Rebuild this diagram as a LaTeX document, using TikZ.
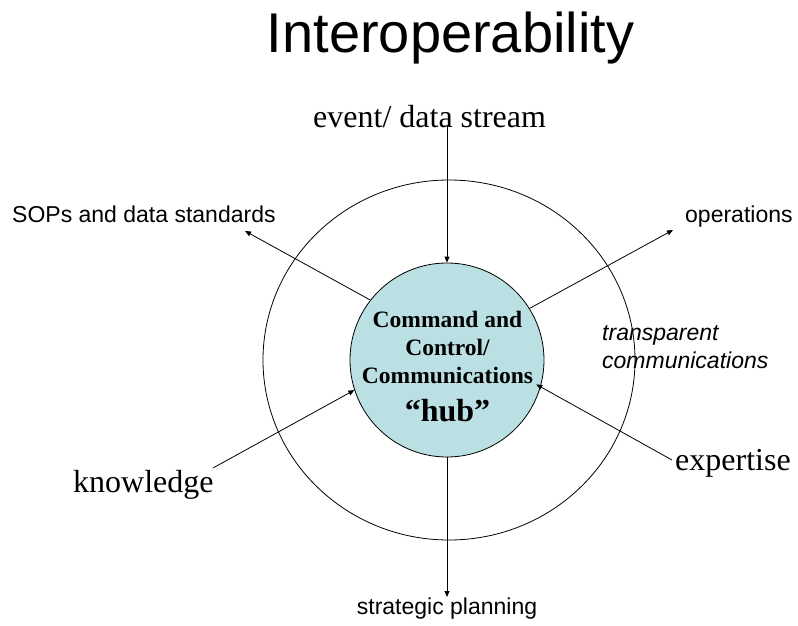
\documentclass[tikz,border=0pt]{standalone}
\usepackage{fontspec}
\setmainfont{Liberation Serif}
\setsansfont{Liberation Sans}
\usetikzlibrary{arrows.meta}
\definecolor{hubfill}{RGB}{187,224,227}
\tikzset{
  conn/.style={line width=0.8pt, -{Triangle[length=6pt,width=5pt]}},
  serifbig/.style={font=\fontsize{32}{38}\selectfont, inner sep=0pt, anchor=base west},
  sanslabel/.style={font=\sffamily\fontsize{23}{28}\selectfont, inner sep=0pt, anchor=base west},
  hubtxt/.style={font=\bfseries\fontsize{23.5}{28}\selectfont, inner sep=0pt, anchor=base},
}
\begin{document}
\begin{tikzpicture}[x=1pt,y=-1pt]
\useasboundingbox (0,0) rectangle (798,626);
% title
\node[font=\sffamily\fontsize{56}{64}\selectfont, inner sep=0pt, anchor=base] (title) at (450.5,53) {Interoperability};
% outer ring
\draw[line width=0.8pt] (449,360) ellipse [x radius=186, y radius=180];
% hub
\node[circle, draw, line width=0.8pt, fill=hubfill, minimum size=194pt, inner sep=0pt] (hub) at (447,360) {};
\node[hubtxt] (h1) at (447.5,327) {Command and};
\node[hubtxt] (h2) at (447.5,355) {Control/};
\node[hubtxt] (h3) at (447.5,383) {Communications};
\node[hubtxt, font=\bfseries\fontsize{32}{38}\selectfont] (h4) at (447.5,421) {“hub”};
% labels
\node[serifbig] (event) at (313,128) {event/ data stream};
\node[sanslabel] (sops) at (12,222) {SOPs and data standards};
\node[sanslabel] (ops) at (685,222) {operations};
\node[sanslabel, font=\sffamily\itshape\fontsize{23}{28}\selectfont] (tr1) at (602,340) {transparent};
\node[sanslabel, font=\sffamily\itshape\fontsize{23}{28}\selectfont] (tr2) at (602,368) {communications};
\node[serifbig] (know) at (73,492) {knowledge};
\node[serifbig] (expert) at (675,470) {expertise};
\node[sanslabel, anchor=base] (strat) at (447,614) {strategic planning};
% free ends
\coordinate (evtop) at (447,126);
\coordinate (sopsend) at (245,231);
\coordinate (opsend) at (673,230);
\coordinate (knowstart) at (213,468);
\coordinate (expstart) at (672,460);
\coordinate (stratend) at (447,597);
% connectors
\draw[conn] (evtop) -- (hub.north);
\draw[conn] (hub.142) -- (sopsend);
\draw[conn] (hub.32) -- (opsend);
\draw[conn] (knowstart) -- (hub.198);
\draw[conn, shorten >=-5pt] (expstart) -- (hub.-16);
\draw[conn] (hub.south) -- (stratend);
\end{tikzpicture}
\end{document}
